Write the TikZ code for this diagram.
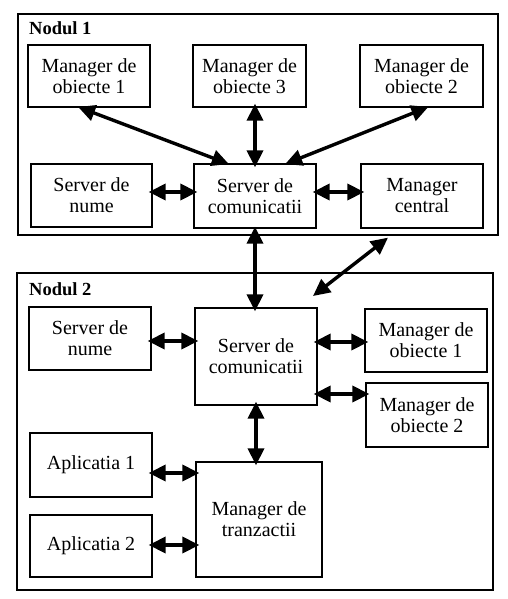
\documentclass[tikz,border=0pt]{standalone}
\usepackage{fontspec}
\setmainfont{Liberation Serif}
\usetikzlibrary{arrows.meta,calc}
\begin{document}
\begin{tikzpicture}[x=1pt,y=-1pt,
  box/.style={draw,line width=1.3pt,align=center,inner sep=0pt,
    font=\fontsize{20}{21}\selectfont},
  group/.style={draw,line width=2pt,inner sep=0pt},
  grouplabel/.style={anchor=base west,inner sep=0pt,
    font=\fontsize{18.5}{20}\selectfont\bfseries},
  link/.style={line width=3.4pt,{Triangle[length=17pt,width=16pt]}-{Triangle[length=17pt,width=16pt]},
    shorten <=-4pt,shorten >=-4pt}]
\useasboundingbox (0,0) rectangle (507,599);

% node 1
\node[group,minimum width=480pt,minimum height=221pt] (n1) at (258,124.5) {};
\node[grouplabel] (l1) at (29,35) {Nodul 1};
\node[box,minimum width=122pt,minimum height=62pt] (mo1) at (89,76) {Manager de\\obiecte 1};
\node[box,minimum width=113pt,minimum height=62pt] (mo3) at (249.5,76) {Manager de\\obiecte 3};
\node[box,minimum width=123pt,minimum height=62pt] (mo2) at (421.5,76) {Manager de\\obiecte 2};
\node[box,minimum width=121pt,minimum height=63pt] (sn1) at (91.5,195.5) {Server de\\nume};
\node[box,minimum width=122pt,minimum height=64pt] (sc1) at (255,196) {Server de\\comunicatii};
\node[box,minimum width=122pt,minimum height=64pt] (mc) at (422,196) {Manager\\central};

% node 2
\node[group,minimum width=476pt,minimum height=317pt] (n2) at (255,431.5) {};
\node[grouplabel] (l2) at (29,295) {Nodul 2};
\node[box,minimum width=122pt,minimum height=63pt] (sn2) at (90,338.5) {Server de\\nume};
\node[box,minimum width=122pt,minimum height=97pt] (sc2) at (256,356.5) {Server de\\comunicatii};
\node[box,minimum width=122pt,minimum height=63pt] (mo21) at (426,340.5) {Manager de\\obiecte 1};
\node[box,minimum width=122pt,minimum height=64pt] (mo22) at (427,415) {Manager de\\obiecte 2};
\node[box,minimum width=122pt,minimum height=64pt] (a1) at (91,465) {Aplicatia 1};
\node[box,minimum width=122pt,minimum height=62pt] (a2) at (91,546) {Aplicatia 2};
\node[box,minimum width=126pt,minimum height=115pt] (mt) at (259,519.5) {Manager de\\tranzactii};

% links inside node 1
\draw[link,shorten <=-2pt,shorten >=-2pt] ($(mo1.south)+(-9,0)$) -- ($(sc1.north)+(-28,0)$);
\draw[link] (sc1.north) -- (sc1.north |- mo3.south);
\draw[link,shorten <=-2pt,shorten >=-2pt] ($(mo2.south)+(5,0)$) -- ($(sc1.north)+(32,0)$);
\draw[link] (sn1.east |- 0,192) -- (sc1.west |- 0,192);
\draw[link] (sc1.east |- 0,192) -- (mc.west |- 0,192);

% links between the nodes
\draw[link,shorten <=-2pt] (sc1.south) -- (sc1.south |- sc2.north);
\coordinate (mcx) at ($(mc.south)+(-34,9)$);
\coordinate (n2x) at (313,296);
\draw[link,shorten <=0pt,shorten >=0pt] (mcx) -- (n2x);

% links inside node 2
\draw[link] (sn2.east |- 0,341) -- (sc2.west |- 0,341);
\draw[link] (sc2.east |- 0,342) -- (mo21.west |- 0,342);
\draw[link] (sc2.east |- 0,394) -- (mo22.west |- 0,394);
\draw[link] (sc2.south) -- (sc2.south |- mt.north);
\draw[link] (a1.east |- 0,473) -- (mt.west |- 0,473);
\draw[link] (a2.east |- 0,545) -- (mt.west |- 0,545);
\end{tikzpicture}
\end{document}
